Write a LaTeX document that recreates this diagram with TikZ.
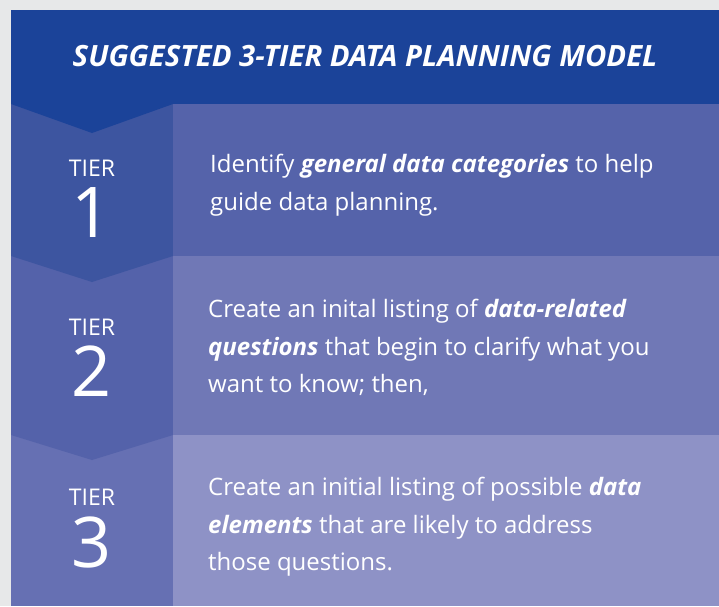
\documentclass[tikz,border=0pt]{standalone}
\usepackage{fontspec}
\setmainfont{Open Sans}
\definecolor{pagegray}{RGB}{231,232,233}
\definecolor{headblue}{RGB}{27,67,153}
\definecolor{oneleft}{RGB}{61,85,160}
\definecolor{oneright}{RGB}{85,99,170}
\definecolor{twoleft}{RGB}{84,98,170}
\definecolor{tworight}{RGB}{112,120,182}
\definecolor{threeleft}{RGB}{102,112,179}
\definecolor{threeright}{RGB}{142,146,198}
\newcommand{\keyterm}[1]{{\bfseries\itshape #1}}
\begin{document}
\begin{tikzpicture}[x=1pt,y=-1pt,
	titletext/.style={text=white, inner sep=0pt, anchor=base,
		font=\fontsize{29.3}{34}\selectfont\bfseries\itshape},
	tierlabel/.style={text=white, inner sep=0pt, anchor=base,
		font=\fontsize{23}{28}\selectfont},
	tiernum/.style={text=white, inner sep=0pt, anchor=base,
		font=\fontsize{70}{84}\selectfont},
	bodytext/.style={text=white, inner sep=0pt, anchor=north west, align=left,
		font=\fontsize{24}{37.5}\selectfont}
	]
	% Page and header band
	\fill[pagegray] (0,0) rectangle (719,606);
	\useasboundingbox (0,0) rectangle (719,606);
	\fill[headblue] (11,10) rectangle (719,104);
	
	% Corners of the rows
	\coordinate (L0) at (11,104);  \coordinate (R0) at (173,104);
	\coordinate (L1) at (11,256);  \coordinate (R1) at (173,256);
	\coordinate (L2) at (11,435);  \coordinate (R2) at (173,435);
	\coordinate (L3) at (11,606);  \coordinate (R3) at (173,606);
	
	% Cells of the three tiers
	\fill[oneleft] (L0) rectangle (R1);
	\fill[oneright] (R0) rectangle (719,256);
	\fill[twoleft] (L1) rectangle (R2);
	\fill[tworight] (R1) rectangle (719,435);
	\fill[threeleft] (L2) rectangle (R3);
	\fill[threeright] (R2) rectangle (719,606);
	
	% Chevrons pointing down into the next tier
	\fill[headblue] (L0) -- (R0) -- (92,133) -- cycle;
	\fill[oneleft] (L1) -- (R1) -- (92,282) -- cycle;
	\fill[twoleft] (L2) -- (R2) -- (92,460) -- cycle;
	
	% Title
	\node[titletext] (title) at (365,66) {SUGGESTED 3-TIER DATA PLANNING MODEL};
	
	% Tier labels
	\node[tierlabel] (tierone) at (92,176) {TIER};
	\node[tiernum] (numone) at (92,237) {1};
	\node[tierlabel] (tiertwo) at (92,335) {TIER};
	\node[tiernum] (numtwo) at (92,396) {2};
	\node[tierlabel] (tierthree) at (92,505) {TIER};
	\node[tiernum] (numthree) at (92,567) {3};
	
	% Descriptions
	\node[bodytext] (textone) at (210,154) {Identify \keyterm{general data categories} to help\\guide data planning.};
	\node[bodytext] (texttwo) at (208,299) {Create an inital listing of \keyterm{data-related}\\\keyterm{questions} that begin to clarify what you\\want to know; then,};
	\node[bodytext] (textthree) at (208,477) {Create an initial listing of possible \keyterm{data}\\\keyterm{elements} that are likely to address\\those questions.};
\end{tikzpicture}
\end{document}
